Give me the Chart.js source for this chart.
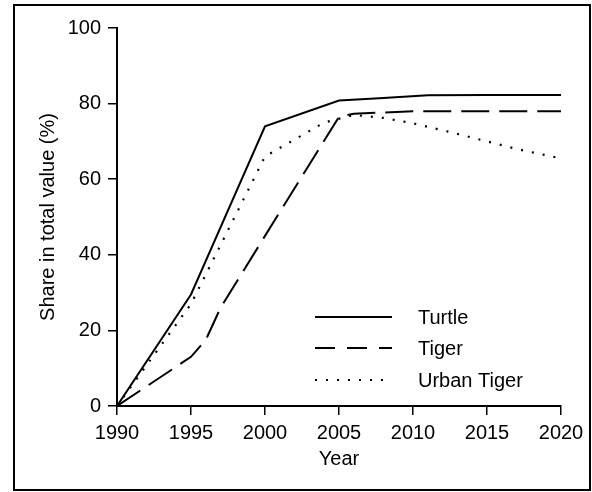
<!DOCTYPE html>
<html>
<head>
<meta charset="utf-8">
<script src="https://cdn.jsdelivr.net/npm/chart.js@4.4.1/dist/chart.umd.min.js"></script>
<style>
    html, body { margin: 0; padding: 0; background: #fff; }
    #wrap { width: 592px; height: 492px; position: relative; }
</style>
</head>
<body>
<div id="wrap"><canvas id="chart" width="592" height="492"></canvas></div>
<script>
// Chart data
const xTicks = [1990, 1995, 2000, 2005, 2010, 2015, 2020];
const yTicks = [0, 20, 40, 60, 80, 100];

const seriesNames = ['Turtle', 'Tiger', 'Urban Tiger'];

const turtleYears = [1990, 1995, 2000, 2005, 2008, 2011, 2015, 2020];
const turtleValues = [0, 29.5, 74, 80.8, 81.5, 82.2, 82.3, 82.3];

const tigerYears = [1990, 1995, 1996, 1997, 2000, 2005, 2006, 2010, 2015, 2020];
const tigerValues = [0, 13, 17.5, 26, 45, 76.5, 77.3, 78, 78, 78];

const urbanYears = [1990, 1995, 2000, 2002, 2004, 2006, 2008, 2010, 2013, 2017, 2020];
const urbanValues = [0, 27, 66, 70.5, 75, 77, 76.2, 74.8, 72, 68, 65.5];

const FONT = '"Liberation Sans", Arial, sans-serif';

function toPoints(xs, ys) {
    return xs.map((x, i) => ({ x: x, y: ys[i] }));
}

// Legend drawn inside the plot area, plus the outer frame
const innerLegend = {
    id: 'innerLegend',
    afterDraw(chart) {
        const ctx = chart.ctx;
        const rows = [317, 348, 380];
        ctx.save();
        chart.data.datasets.forEach((ds, i) => {
            ctx.beginPath();
            ctx.strokeStyle = '#000';
            ctx.lineWidth = ds.borderWidth;
            ctx.setLineDash(ds.legendDash || []);
            ctx.moveTo(315, rows[i]);
            ctx.lineTo(392, rows[i]);
            ctx.stroke();
            ctx.setLineDash([]);
            ctx.fillStyle = '#000';
            ctx.font = '20px ' + FONT;
            ctx.textBaseline = 'middle';
            ctx.textAlign = 'left';
            ctx.fillText(ds.label, 418, rows[i] + 1);
        });
        // outer frame
        ctx.lineWidth = 2;
        ctx.strokeStyle = '#000';
        ctx.strokeRect(14, 5, 576, 485);
        ctx.restore();
    }
};

new Chart(document.getElementById('chart'), {
    type: 'line',
    data: {
        datasets: [
            {
                label: seriesNames[0],
                data: toPoints(turtleYears, turtleValues),
                borderColor: '#000',
                borderWidth: 2,
                pointRadius: 0,
                tension: 0
            },
            {
                label: seriesNames[1],
                data: toPoints(tigerYears, tigerValues),
                borderColor: '#000',
                borderWidth: 2,
                borderDash: [28, 10],
                legendDash: [20, 12],
                pointRadius: 0,
                tension: 0
            },
            {
                label: seriesNames[2],
                data: toPoints(urbanYears, urbanValues),
                borderColor: '#000',
                borderWidth: 2.2,
                borderDash: [2, 9],
                legendDash: [2, 9],
                pointRadius: 0,
                tension: 0
            }
        ]
    },
    options: {
        responsive: false,
        animation: false,
        layout: { padding: { left: 14, right: 31, top: 28, bottom: 10 } },
        plugins: {
            legend: { display: false },
            tooltip: { enabled: false }
        },
        scales: {
            x: {
                type: 'linear',
                min: 1990,
                max: 2020,
                afterBuildTicks: (scale) => { scale.ticks = xTicks.map(v => ({ value: v })); },
                afterFit: (scale) => { scale.height = 76; },
                grid: { drawOnChartArea: false, drawTicks: true, tickLength: 9, color: '#000', lineWidth: 1.5 },
                border: { display: true, color: '#000', width: 2 },
                ticks: {
                    color: '#000',
                    padding: 6,
                    maxRotation: 0,
                    font: { family: FONT, size: 20 },
                    callback: (v) => String(v)
                },
                title: {
                    display: true,
                    text: 'Year',
                    color: '#000',
                    font: { family: FONT, size: 20 },
                    padding: { top: 0, bottom: 11 }
                }
            },
            y: {
                min: 0,
                max: 100,
                afterBuildTicks: (scale) => { scale.ticks = yTicks.map(v => ({ value: v })); },
                afterFit: (scale) => { scale.width = 103; },
                grid: { drawOnChartArea: false, drawTicks: true, tickLength: 9, color: '#000', lineWidth: 1.5 },
                border: { display: true, color: '#000', width: 2 },
                ticks: {
                    color: '#000',
                    padding: 7,
                    font: { family: FONT, size: 20 }
                },
                title: {
                    display: true,
                    text: 'Share in total value (%)',
                    color: '#000',
                    font: { family: FONT, size: 20 },
                    padding: { top: 22, bottom: 0 }
                }
            }
        }
    },
    plugins: [innerLegend]
});
</script>
</body>
</html>
